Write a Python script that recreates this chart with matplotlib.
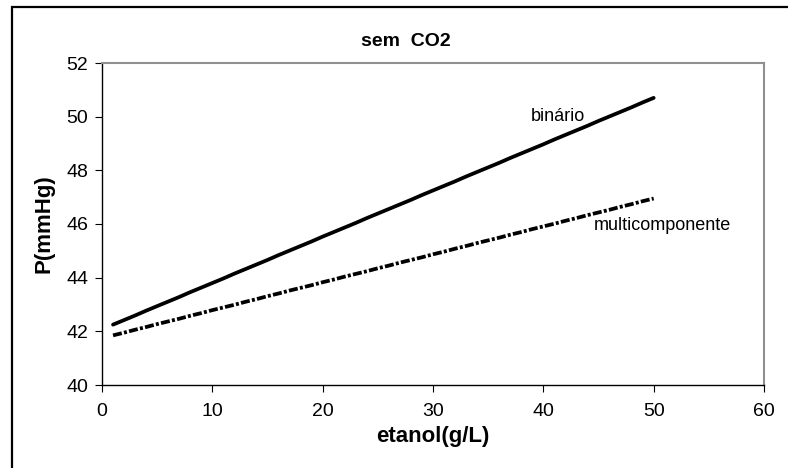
import matplotlib
matplotlib.use("Agg")
import matplotlib.pyplot as plt
from matplotlib.patches import Rectangle

plt.rcParams['font.family'] = ['Liberation Sans', 'DejaVu Sans']

etanol = list(range(1, 51))
binario = [42.25, 42.42, 42.59, 42.77, 42.94, 43.11, 43.28, 43.46, 43.63, 43.80,
           43.97, 44.15, 44.32, 44.49, 44.66, 44.84, 45.01, 45.18, 45.35, 45.53,
           45.70, 45.87, 46.04, 46.22, 46.39, 46.56, 46.73, 46.90, 47.08, 47.25,
           47.42, 47.59, 47.77, 47.94, 48.11, 48.28, 48.46, 48.63, 48.80, 48.97,
           49.15, 49.32, 49.49, 49.66, 49.84, 50.01, 50.18, 50.35, 50.53, 50.70]
multicomponente = [41.85, 41.95, 42.06, 42.16, 42.27, 42.37, 42.47, 42.58, 42.68, 42.79,
                   42.89, 42.99, 43.10, 43.20, 43.31, 43.41, 43.52, 43.62, 43.72, 43.83,
                   43.93, 44.04, 44.14, 44.24, 44.35, 44.45, 44.56, 44.66, 44.76, 44.87,
                   44.97, 45.08, 45.18, 45.29, 45.39, 45.49, 45.60, 45.70, 45.81, 45.91,
                   46.01, 46.12, 46.22, 46.33, 46.43, 46.53, 46.64, 46.74, 46.85, 46.95]
xticks = [0, 10, 20, 30, 40, 50, 60]
yticks = [40, 42, 44, 46, 48, 50, 52]

W, H = 788, 468
fig = plt.figure(figsize=(W / 100, H / 100), dpi=100)
fig.patch.set_facecolor('white')

# outer chart border
fig.patches.append(Rectangle((12 / W, -0.2), 1.2, 1 - 7 / H + 0.2, transform=fig.transFigure,
                             fill=False, edgecolor='black', linewidth=1.6, zorder=0))

ax = fig.add_axes([102 / W, (H - 385) / H, (764 - 102) / W, (385 - 63) / H])
ax.plot(etanol, binario, color='black', linewidth=2.7, solid_capstyle='round')
ax.plot(etanol, multicomponente, color='black', linewidth=2.7,
        dashes=[2.4, 0.6, 0.8, 0.6])

ax.set_xlim(0, 60)
ax.set_ylim(40, 52)
ax.set_xticks(xticks)
ax.set_yticks(yticks)
ax.tick_params(direction='out', length=5, width=0.8, labelsize=14, pad=5, colors='black')
ax.tick_params(axis='x', pad=8)

for side in ['top', 'right']:
    ax.spines[side].set_color('#909090')
    ax.spines[side].set_linewidth(1.5)
for side in ['left', 'bottom']:
    ax.spines[side].set_color('black')
    ax.spines[side].set_linewidth(1.0)

ax.set_xlabel('etanol(g/L)', fontsize=16, fontweight='bold', labelpad=4)
ax.set_ylabel('P(mmHg)', fontsize=16, fontweight='bold', labelpad=8)

ax.text(41.3, 50.0, 'binário', fontsize=13, ha='center', va='center')
ax.text(50.8, 45.96, 'multicomponente', fontsize=13, ha='center', va='center')

fig.text(406 / W, 1 - 41 / H, 'sem  CO2', fontsize=14, fontweight='bold',
         ha='center', va='center')

fig.savefig('out.png', dpi=100)
